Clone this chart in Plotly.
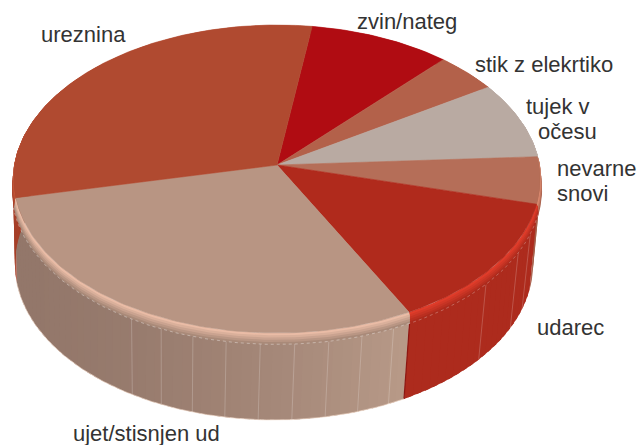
import math
import plotly.graph_objects as go

categories = ["zvin/nateg", "stik z elekrtiko", "tujek v očesu", "nevarne snovi", "udarec", "ujet/stisnjen ud", "ureznina"]
values = [9.5, 4.2, 8.1, 4.9, 13.3, 29.3, 30.7]
face_colors = ["#b00c12", "#b3614a", "#b9aaa2", "#b56e58", "#b02a1c", "#b89583", "#b04a30"]
rim_colors = ["#c02a20", "#c8745a", "#cfc0b8", "#dc8a70", "#e03c2a", "#eabca6", "#c4583a"]
side_colors = ["#98100f", "#9e5240", "#a3958d", "#a55f4a", "#ad2b1d", "#b89a88", "#a63f28"]
side_left_color = "#93776a"
label_lines = ["ureznina", "zvin/nateg", "stik z elekrtiko", "tujek v", "očesu", "nevarne", "snovi", "udarec", "ujet/stisnjen ud"]
label_x = [42, 358, 476, 527, 539, 558, 558, 538, 74]
label_y = [34, 21, 64, 106, 131, 168, 193, 327, 433.5]

START = 8.4
K = 0.0909
TOP = dict(x0=277, y0=165, A=262, B=152.7)
RIM1 = dict(x0=277, y0=167, A=263, B=153.0)
RIM2 = dict(x0=276.5, y0=175, A=264, B=154)
BOTTOM = dict(x0=274, y0=250, A=258, B=154.5)


def proj(deg, p, r=1.0):
    t = math.radians(deg)
    X, Y = r * math.sin(t), r * math.cos(t)
    d = 1 + K * Y
    return p["x0"] + p["A"] * X / d, p["y0"] - p["B"] * Y / d


def arc(a, b, p, step=1.0):
    n = max(2, int(abs(b - a) / step) + 1)
    return [proj(a + (b - a) * i / (n - 1), p) for i in range(n)]


def mix(c1, c2, f):
    a = [int(c1[i:i + 2], 16) for i in (1, 3, 5)]
    b = [int(c2[i:i + 2], 16) for i in (1, 3, 5)]
    return "rgb(%d,%d,%d)" % tuple(round(a[i] + (b[i] - a[i]) * f) for i in range(3))


fig = go.Figure()


def poly(pts, color, lw=0.6):
    fig.add_trace(go.Scatter(
        x=[q[0] for q in pts] + [pts[0][0]], y=[q[1] for q in pts] + [pts[0][1]],
        mode="lines", fill="toself", fillcolor=color,
        line=dict(color=color, width=lw), hoverinfo="skip", showlegend=False))


def line(pts, color, lw=1, dash="solid"):
    fig.add_trace(go.Scatter(
        x=[q[0] for q in pts], y=[q[1] for q in pts], mode="lines",
        line=dict(color=color, width=lw, dash=dash), hoverinfo="skip", showlegend=False))


edges = [START]
for v in values:
    edges.append(edges[-1] + v * 3.6)
slices = list(zip(categories, edges[:-1], edges[1:], face_colors, rim_colors, side_colors))

# side wall, drawn as narrow strips that overlap their neighbours
strips = []
for name, a, b, fc, rc, sc in slices:
    n = max(1, int((b - a) / 2))
    for i in range(n):
        s, e = a + (b - a) * i / n, a + (b - a) * (i + 1) / n
        m = (s + e) / 2
        if math.cos(math.radians(m)) > 0.25:
            continue
        if name.startswith("ujet"):
            f = (math.sin(math.radians(m)) + 1) / (1 + math.sin(math.radians(a)))
            col = mix(side_left_color, sc, max(0, min(1, f)) ** 1.9)
        else:
            col = sc
        strips.append((s, e, col, a, b))
for s, e, col, a, b in strips:
    poly(arc(s, min(e + 1.2, b), RIM1) + arc(min(e + 1.2, b), s, BOTTOM), col, 0)

# facet lines on the wall
for name, a, b, fc, rc, sc in slices:
    if name.startswith("ujet"):
        d = 156.0
        while d < 214:
            line([proj(d, RIM2), proj(d, BOTTOM)], "rgba(255,255,255,0.25)", 0.8)
            d += 6.8
        line([proj(a, RIM2), proj(a, BOTTOM)], "#8c1712", 1.2)
    if name == "udarec":
        for f in (0.43, 0.70, 0.85):
            d = b - (b - a) * f
            line([proj(d, RIM2), proj(d, BOTTOM)], "rgba(255,255,255,0.25)", 0.8)

# bevel between the face and the wall, fading from highlight into the wall
for name, a, b, fc, rc, sc in slices:
    n = 4
    for j in range(n, 0, -1):
        g = dict(x0=RIM1["x0"], y0=RIM1["y0"] + (RIM2["y0"] - RIM1["y0"]) * j / n,
                 A=RIM1["A"] + (RIM2["A"] - RIM1["A"]) * j / n,
                 B=RIM1["B"] + (RIM2["B"] - RIM1["B"]) * j / n)
        g0 = dict(g, y0=RIM1["y0"] - 1, A=RIM1["A"], B=RIM1["B"])
        col = mix(rc, sc if not name.startswith("ujet") else "#a98a79", j / n)
        poly(arc(a, b, g) + arc(b, a, g0), col, 0)
for name, a, b, fc, rc, sc in slices:
    poly(arc(a, b, RIM1) + arc(b, a, TOP), rc, 0)

# dotted seam and pale lower edge
ujet = slices[5]
line(arc(ujet[1], ujet[2], RIM2), "rgba(255,255,255,0.45)", 0.8, "dot")
line(arc(ujet[1], ujet[2], BOTTOM), "rgba(240,215,200,0.8)", 0.8)
uda = slices[4]
line(arc(uda[1], uda[2], RIM2), "rgba(255,255,255,0.35)", 0.8, "dot")

# top face
for name, a, b, fc, rc, sc in slices:
    poly([(TOP["x0"], TOP["y0"])] + arc(a, b, TOP), fc)

for t, x, y in zip(label_lines, label_x, label_y):
    fig.add_annotation(x=x, y=y, text=t, showarrow=False, xanchor="left", yanchor="middle",
                       xshift=-3, font=dict(family="Liberation Sans", size=22, color="#333333"))

fig.update_layout(
    width=640, height=445, margin=dict(l=0, r=0, t=0, b=0), showlegend=False,
    paper_bgcolor="white", plot_bgcolor="white",
    xaxis=dict(range=[0, 640], visible=False, fixedrange=True),
    yaxis=dict(range=[445, 0], visible=False, fixedrange=True),
)
fig.write_html("out.html", config={"displayModeBar": False},
               post_script="document.body.style.margin='0';document.body.style.overflow='hidden';")
